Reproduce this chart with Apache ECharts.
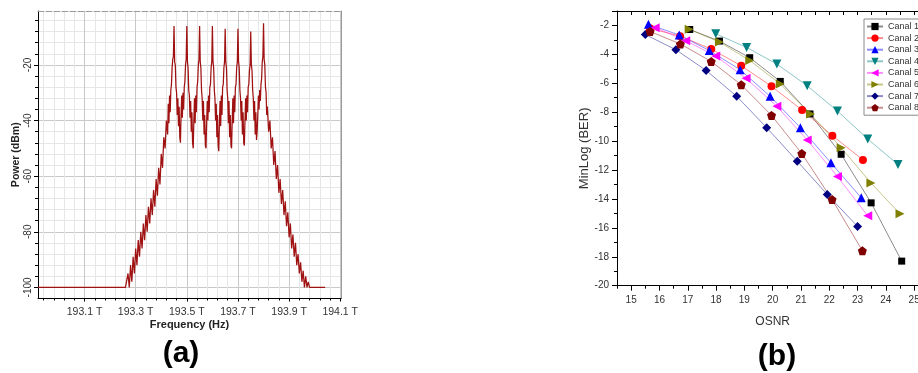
<!DOCTYPE html>
<html><head><meta charset="utf-8">
<script src="https://cdn.jsdelivr.net/npm/echarts@6/dist/echarts.min.js"></script>
<style>html,body{margin:0;padding:0;background:#fff}#c{width:918px;height:373px}</style>
</head><body><div id="c"></div>
<script>
// ---------- Panel (a): optical spectrum ----------
const freqTicks = [193.1, 193.3, 193.5, 193.7, 193.9, 194.1];
const powerTicks = [-100, -80, -60, -40, -20];
const flatLeft = [[192.918, -100], [193.260, -100]];
const skirtUp = [
 [193.265,-100],[193.270,-95],[193.275,-100],[193.280,-92],[193.285,-98],[193.290,-89],[193.295,-95],
 [193.300,-86],[193.305,-92],[193.310,-83],[193.315,-89],[193.320,-80],[193.325,-86],[193.330,-77],
 [193.335,-83],[193.340,-74],[193.345,-80],[193.350,-71],[193.355,-77],[193.360,-68],[193.365,-74],
 [193.370,-65],[193.375,-71],[193.380,-61],[193.385,-67],[193.390,-57],[193.395,-63],[193.400,-52],
 [193.405,-57],[193.410,-46],[193.415,-50],[193.420,-40],[193.425,-45]
];
const band = [
 [193.4275,-34],[193.4300,-41],[193.4325,-31],[193.4350,-37],[193.4375,-29],[193.4400,-27],[193.4425,-21],[193.4450,-18],[193.4475,-17],[193.4500,-6],
 [193.4525,-19],[193.4550,-20],[193.4575,-28],[193.4600,-30],[193.4625,-38],[193.4650,-32],[193.4675,-42],[193.4700,-35],[193.4725,-46],[193.4750,-48],
 [193.4775,-38],[193.4800,-31],[193.4825,-39],[193.4850,-30],[193.4875,-36],[193.4900,-28],[193.4925,-26],[193.4950,-20],[193.4975,-18],[193.5000,-6],
 [193.5025,-19],[193.5050,-21],[193.5075,-29],[193.5100,-31],[193.5125,-39],[193.5150,-33],[193.5175,-44],[193.5200,-37],[193.5225,-48],[193.5250,-50],
 [193.5275,-40],[193.5300,-32],[193.5325,-41],[193.5350,-31],[193.5375,-37],[193.5400,-28],[193.5425,-26],[193.5450,-20],[193.5475,-18],[193.5500,-6],
 [193.5525,-19],[193.5550,-21],[193.5575,-29],[193.5600,-32],[193.5625,-40],[193.5650,-33],[193.5675,-45],[193.5700,-38],[193.5725,-49],[193.5750,-50],
 [193.5775,-41],[193.5800,-33],[193.5825,-40],[193.5850,-31],[193.5875,-37],[193.5900,-28],[193.5925,-27],[193.5950,-21],[193.5975,-19],[193.6000,-6],
 [193.6025,-19],[193.6050,-21],[193.6075,-29],[193.6100,-32],[193.6125,-40],[193.6150,-34],[193.6175,-46],[193.6200,-38],[193.6225,-49],[193.6250,-51],
 [193.6275,-41],[193.6300,-33],[193.6325,-42],[193.6350,-31],[193.6375,-38],[193.6400,-28],[193.6425,-27],[193.6450,-21],[193.6475,-19],[193.6500,-7],
 [193.6525,-19],[193.6550,-21],[193.6575,-29],[193.6600,-32],[193.6625,-41],[193.6650,-33],[193.6675,-46],[193.6700,-38],[193.6725,-49],[193.6750,-50],
 [193.6775,-40],[193.6800,-32],[193.6825,-41],[193.6850,-31],[193.6875,-37],[193.6900,-28],[193.6925,-27],[193.6950,-21],[193.6975,-19],[193.7000,-7],
 [193.7025,-19],[193.7050,-21],[193.7075,-29],[193.7100,-32],[193.7125,-40],[193.7150,-33],[193.7175,-45],[193.7200,-37],[193.7225,-48],[193.7250,-49],
 [193.7275,-40],[193.7300,-32],[193.7325,-40],[193.7350,-31],[193.7375,-37],[193.7400,-28],[193.7425,-27],[193.7450,-22],[193.7475,-20],[193.7500,-8],
 [193.7525,-20],[193.7550,-22],[193.7575,-29],[193.7600,-32],[193.7625,-40],[193.7650,-33],[193.7675,-45],[193.7700,-37],[193.7725,-47],[193.7750,-44],
 [193.7775,-38],[193.7800,-31],[193.7825,-36],[193.7850,-29],[193.7875,-33],[193.7900,-27],[193.7925,-25],[193.7950,-19],[193.7975,-17],[193.8000,-5],
 [193.8025,-18],[193.8050,-20],[193.8075,-28],[193.8100,-30],[193.8125,-38],[193.8150,-35]
];
const skirtDown = [
 [193.820,-44],[193.825,-40],[193.830,-50],[193.835,-46],[193.840,-56],[193.845,-51],[193.850,-61],
 [193.855,-56],[193.860,-66],[193.865,-61],[193.870,-70],[193.875,-65],[193.880,-74],[193.885,-69],
 [193.890,-78],[193.895,-73],[193.900,-82],[193.905,-77],[193.910,-86],[193.915,-81],[193.920,-89],
 [193.925,-84],[193.930,-92],[193.935,-88],[193.940,-95],[193.945,-91],[193.950,-98],[193.955,-94],
 [193.960,-100],[193.965,-96],[193.970,-100],[193.975,-98],[193.980,-100]
];
const flatRight = [[194.041, -100]];

// ---------- Panel (b): MinLog(BER) vs OSNR ----------
const osnrTicks = [15, 16, 17, 18, 19, 20, 21, 22, 23, 24, 25];
const canalNames = ['Canal 1','Canal 2','Canal 3','Canal 4','Canal 5','Canal 6','Canal 7','Canal 8'];
const canal1X = [17.07,18.12,19.19,20.27,21.32,22.42,23.48,24.56];
const canal1Y = [-2.28,-3.08,-4.23,-5.87,-8.12,-10.91,-14.27,-18.30];
const canal2X = [15.66,16.73,17.83,18.89,19.96,21.04,22.11,23.19];
const canal2Y = [-2.20,-2.74,-3.63,-4.79,-6.21,-7.85,-9.62,-11.30];
const canal3X = [15.61,16.70,17.76,18.85,19.91,20.98,22.06,23.13];
const canal3Y = [-1.92,-2.66,-3.73,-5.06,-6.90,-9.07,-11.50,-13.92];
const canal4X = [17.99,19.08,20.15,21.22,22.29,23.36,24.43];
const canal4Y = [-2.58,-3.52,-4.67,-6.17,-7.92,-9.85,-11.62];
const canal5X = [15.85,16.93,17.99,19.06,20.15,21.22,22.29,23.36];
const canal5Y = [-2.15,-3.05,-4.12,-5.66,-7.59,-9.92,-12.45,-15.17];
const canal6X = [17.05,18.12,19.19,20.27,21.34,22.42,23.47,24.50];
const canal6Y = [-2.26,-3.15,-4.42,-6.05,-8.12,-10.45,-12.89,-15.03];
const canal7X = [15.50,16.58,17.65,18.73,19.79,20.87,21.93,23.00];
const canal7Y = [-2.63,-3.68,-5.11,-6.90,-9.07,-11.39,-13.69,-15.90];
const canal8X = [15.67,16.74,17.83,18.89,19.96,21.03,22.10,23.17];
const canal8Y = [-2.42,-3.28,-4.49,-6.10,-8.22,-10.86,-14.04,-17.58];

const canalX = [canal1X,canal2X,canal3X,canal4X,canal5X,canal6X,canal7X,canal8X];
const canalY = [canal1Y,canal2Y,canal3Y,canal4Y,canal5Y,canal6Y,canal7Y,canal8Y];
const canalColors = ['#000000','#ff0000','#0000ff','#008080','#ff00ff','#808000','#000080','#800000'];
const canalSymbols = ['rect','circle','triangle',
  'path://M-1,-1 L1,-1 L0,1 Z',
  'path://M1,-1 L1,1 L-1,0 Z',
  'path://M-1,-1 L-1,1 L1,0 Z',
  'diamond',
  'path://M0,-1 L0.951,-0.309 L0.588,0.809 L-0.588,0.809 L-0.951,-0.309 Z'];
const canalSizes = [7,8,9,9,9,9,9,9];

// grid-line positions (layout only)
const xMinor = []; for (let k = -4; k <= 25; k++) if (k % 5 !== 0) xMinor.push(+(193.1 + 0.04 * k).toFixed(2));
const yMinor = []; for (let v = -100; v <= -4; v += 4) if (v % 20 !== 0) yMinor.push(v);

const FONT = 'Liberation Sans, Arial, sans-serif';
const chart = echarts.init(document.getElementById('c'), null, {renderer: 'canvas'});

const series = [{
  type: 'line', xAxisIndex: 0, yAxisIndex: 0, showSymbol: false, symbol: 'none',
  data: [].concat(flatLeft, skirtUp, band, skirtDown, flatRight),
  lineStyle: {color: '#a01212', width: 1.25}, silent: true, z: 5
}];
canalNames.forEach((n, i) => {
  series.push({
    type: 'line', name: n, xAxisIndex: 3, yAxisIndex: 3,
    data: canalX[i].map((x, j) => [x, canalY[i][j]]),
    symbol: canalSymbols[i], symbolSize: canalSizes[i],
    itemStyle: {color: canalColors[i]},
    lineStyle: {color: canalColors[i], width: 1, opacity: 0.45},
    z: 3
  });
});

chart.setOption({
  animation: false,
  backgroundColor: '#fff',
  textStyle: {fontFamily: FONT},
  grid: [
    {left: 38, top: 11, width: 303, height: 287.5, containLabel: false, outerBoundsMode: 'none'},
    {left: 617, top: 11, width: 311.3, height: 274.7, containLabel: false, outerBoundsMode: 'none'}
  ],
  legend: {
    data: canalNames, orient: 'vertical', left: 864, top: 19,
    padding: [3, 4, 3, 2], itemWidth: 16, itemHeight: 9, itemGap: 2.6,
    borderColor: '#8a8a8a', borderWidth: 1, backgroundColor: '#fff',
    textStyle: {fontSize: 9, color: '#333', fontFamily: FONT, overflow: 'none'}
  },
  xAxis: [
    { // 0 panel a main
      gridIndex: 0, type: 'value', min: 192.918, max: 194.103, position: 'bottom',
      name: 'Frequency (Hz)', nameLocation: 'middle', nameGap: 21, nameMoveOverlap: false,
      nameTextStyle: {fontSize: 11, fontWeight: 'bold', color: '#222'},
      axisLine: {lineStyle: {color: '#000', width: 1}},
      axisTick: {customValues: freqTicks, length: 3, lineStyle: {color: '#000'}},
      axisLabel: {customValues: freqTicks, fontSize: 10.5, color: '#333', margin: 8, formatter: v => v.toFixed(1) + ' T'},
      splitLine: {show: true, lineStyle: {color: '#c9c9c9', width: 1}}
    },
    { // 1 panel a minor grid
      gridIndex: 0, type: 'value', min: 192.918, max: 194.103, position: 'bottom',
      axisLine: {show: false}, axisLabel: {show: false},
      axisTick: {customValues: xMinor, length: 2, lineStyle: {color: '#000'}},
      splitLine: {show: true, lineStyle: {color: '#e6e6e6', width: 1}}
    },
    { // 2 panel a top border
      gridIndex: 0, type: 'value', min: 192.918, max: 194.103, position: 'top',
      axisLine: {show: true, lineStyle: {color: '#9a9a9a', type: [6, 2]}},
      axisTick: {show: false}, axisLabel: {show: false}, splitLine: {show: false}
    },
    { // 3 panel b main
      gridIndex: 1, type: 'value', min: 14.5, max: 25.5, position: 'bottom',
      name: 'OSNR', nameLocation: 'middle', nameGap: 30,
      nameTextStyle: {fontSize: 12, color: '#333'},
      axisLine: {lineStyle: {color: '#000', width: 1}},
      axisTick: {customValues: osnrTicks, length: 5, lineStyle: {color: '#000'}},
      axisLabel: {customValues: osnrTicks, fontSize: 10, color: '#333', margin: 10},
      splitLine: {show: false}
    },
    { // 4 panel b minor ticks
      gridIndex: 1, type: 'value', min: 14.5, max: 25.5, interval: 0.5, position: 'bottom',
      axisLine: {show: false}, axisLabel: {show: false},
      axisTick: {length: 3, lineStyle: {color: '#000'}}, splitLine: {show: false}
    },
    { // 5 panel b top border
      gridIndex: 1, type: 'value', min: 14.5, max: 25.5, interval: 0.5, position: 'top',
      axisLine: {show: true, lineStyle: {color: '#000'}},
      axisTick: {inside: true, length: 4, lineStyle: {color: '#000'}},
      axisLabel: {show: false}, splitLine: {show: false}
    }
  ],
  yAxis: [
    { // 0 panel a main
      gridIndex: 0, type: 'value', min: -104, max: -0.6, position: 'left',
      name: 'Power (dBm)', nameLocation: 'middle', nameGap: 16, nameRotate: 90,
      nameTextStyle: {fontSize: 10.5, fontWeight: 'bold', color: '#222'},
      axisLine: {show: true, lineStyle: {color: '#000', width: 1}},
      axisTick: {customValues: powerTicks, length: 4, lineStyle: {color: '#000'}},
      axisLabel: {customValues: powerTicks, rotate: 90, fontSize: 10, color: '#333', margin: 5},
      splitLine: {show: true, lineStyle: {color: '#c9c9c9', width: 1}}
    },
    { // 1 panel a minor grid
      gridIndex: 0, type: 'value', min: -104, max: -0.6, position: 'left',
      axisLine: {show: false}, axisLabel: {show: false},
      axisTick: {customValues: yMinor, length: 3, lineStyle: {color: '#000'}},
      splitLine: {show: true, lineStyle: {color: '#e6e6e6', width: 1}}
    },
    { // 2 panel a right border
      gridIndex: 0, type: 'value', min: -104, max: -0.6, position: 'right',
      axisLine: {show: true, lineStyle: {color: '#9a9a9a'}},
      axisTick: {show: false}, axisLabel: {show: false}, splitLine: {show: false}
    },
    { // 3 panel b main
      gridIndex: 1, type: 'value', min: -20, max: -1, interval: 2, position: 'left',
      name: 'MinLog (BER)', nameLocation: 'middle', nameGap: 26, nameRotate: 90,
      nameTextStyle: {fontSize: 13, color: '#333'},
      axisLine: {show: true, lineStyle: {color: '#000', width: 1}},
      axisTick: {length: 5, lineStyle: {color: '#000'}},
      minorTick: {show: true, splitNumber: 2, length: 3, lineStyle: {color: '#000'}},
      axisLabel: {fontSize: 10, color: '#333', margin: 8, showMaxLabel: false},
      splitLine: {show: false}
    }
  ],
  graphic: [
    {type: 'text', x: 181, y: 354, style: {text: '(a)', font: 'bold 30px ' + FONT, fill: '#000', textAlign: 'center', textVerticalAlign: 'middle'}},
    {type: 'text', x: 777, y: 356.5, style: {text: '(b)', font: 'bold 30px ' + FONT, fill: '#000', textAlign: 'center', textVerticalAlign: 'middle'}}
  ],
  series: series
});
</script></body></html>
